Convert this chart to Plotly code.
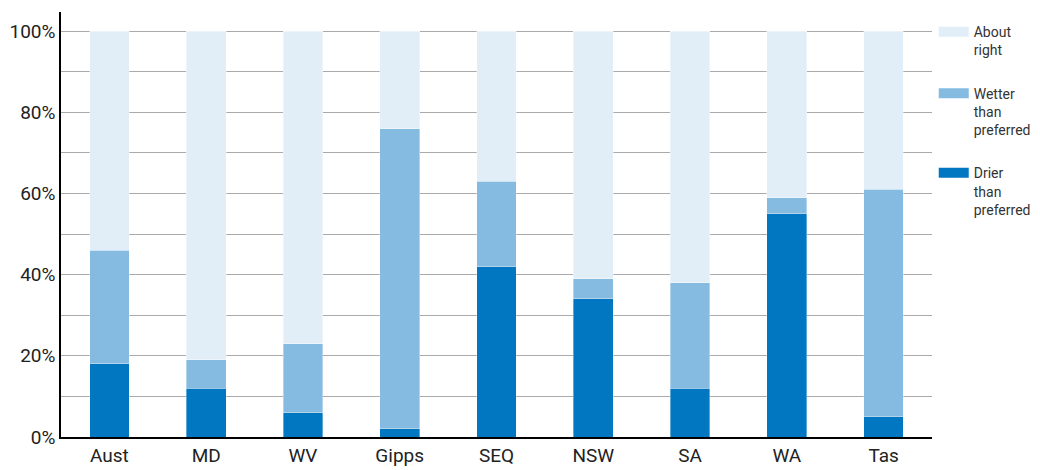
import plotly.graph_objects as go

categories = ["Aust", "MD", "WV", "Gipps", "SEQ", "NSW", "SA", "WA", "Tas"]
drier = [18, 12, 6, 2, 42, 34, 12, 55, 5]
wetter = [28, 7, 17, 74, 21, 5, 26, 4, 56]
about = [54, 81, 77, 24, 37, 61, 62, 41, 39]
tick_vals = [0, 20, 40, 60, 80, 100]
tick_text = ["0%", "20%", "40%", "60%", "80%", "100%"]

series = [
    ("Drier<br>than<br>preferred", drier, "#0077C0", "c"),
    ("Wetter<br>than<br>preferred", wetter, "#85BBE1", "b"),
    ("About<br>right", about, "#E1EEF7", "a"),
]

fig = go.Figure()
for name, vals, col, g in series:
    fig.add_trace(go.Bar(x=categories, y=vals, name=name, marker_color=col,
                         marker_line_width=0.6, marker_line_color="rgba(255,255,255,0.6)",
                         width=0.41, showlegend=False))
for name, vals, col, g in reversed(series):
    fig.add_trace(go.Scatter(x=[None], y=[None], mode="lines", name=name, legendgroup=g,
                             line=dict(color=col, width=10), showlegend=True))

font = "Liberation Sans Narrow, Arial Narrow, Roboto, sans-serif"
fig.update_layout(
    barmode="stack",
    width=1032, height=462,
    margin=dict(l=53, r=108, t=4, b=33, autoexpand=False),
    plot_bgcolor="white", paper_bgcolor="white",
    font=dict(family=font, color="#222", size=19),
    legend=dict(x=1.002, y=0.99, xanchor="left", yanchor="top",
                font=dict(size=14, color="#333"), valign="top",
                tracegroupgap=22, traceorder="grouped", itemwidth=30),
    xaxis=dict(range=[-0.5, 8.5], showline=True, linecolor="black", linewidth=1.5,
               ticks="", tickfont=dict(size=19), automargin=False),
    yaxis=dict(range=[0, 104.7], tickmode="array", tickvals=tick_vals, ticktext=tick_text,
               showline=True, linecolor="black", linewidth=1.5,
               showgrid=True, gridcolor="#aaaaaa", gridwidth=1,
               minor=dict(dtick=10, showgrid=True, gridcolor="#aaaaaa", gridwidth=1),
               zeroline=False, tickfont=dict(size=19), ticks="", automargin=False),
)
fig.write_html("out.html")
